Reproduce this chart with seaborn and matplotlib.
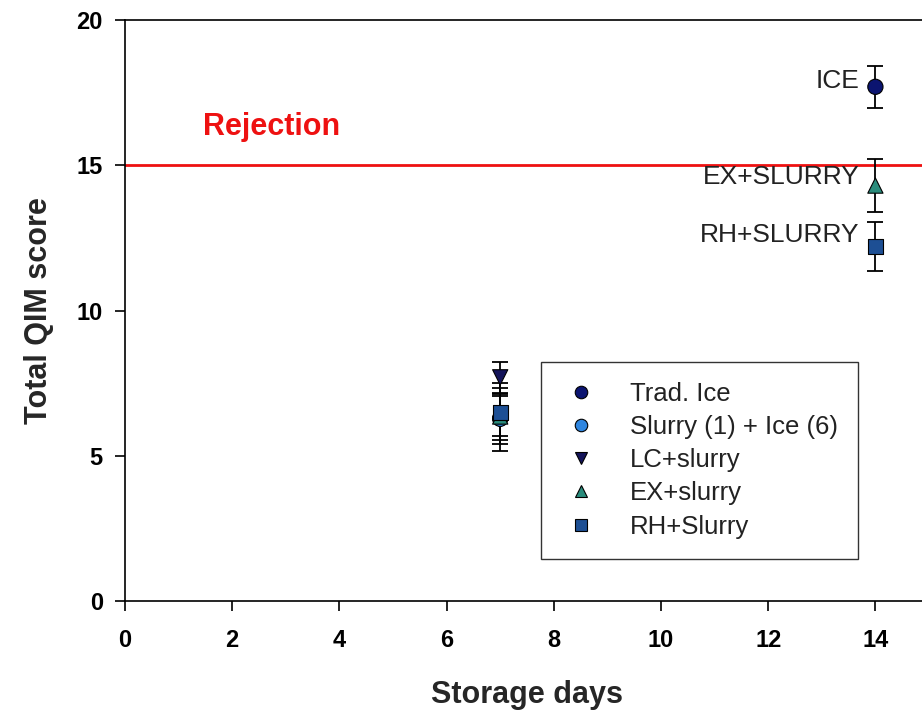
import pandas as pd
import matplotlib.pyplot as plt
import seaborn as sns
from matplotlib.lines import Line2D

# Data
days = [7, 7, 7, 7, 7, 14, 14, 14]
treatments = ['Trad. Ice', 'Slurry (1) + Ice (6)', 'LC+slurry', 'EX+slurry', 'RH+Slurry',
              'Trad. Ice', 'EX+slurry', 'RH+Slurry']
scores = [6.3, 6.27, 7.7, 6.35, 6.5, 17.7, 14.3, 12.2]
errors = [0.75, 0.87, 0.53, 1.17, 0.83, 0.73, 0.9, 0.85]

order = ['Trad. Ice', 'Slurry (1) + Ice (6)', 'LC+slurry', 'EX+slurry', 'RH+Slurry']
colors = ['#0b1470', '#2f86e0', '#14145a', '#2a8c7c', '#1d4f94']
markers = ['o', 'o', 'v', '^', 's']

rejection_level = 15
annotations = ['ICE', 'EX+SLURRY', 'RH+SLURRY']
annot_y = [17.9, 14.6, 12.6]

df = pd.DataFrame({'Day': days, 'Treatment': treatments, 'Score': scores, 'Err': errors})

sns.set_style('ticks')
plt.rcParams['font.family'] = ['Liberation Sans', 'DejaVu Sans']

fig = plt.figure(figsize=(9.22, 7.10), dpi=100)
ax = fig.add_axes([125 / 922, 109 / 710, 804 / 922, 581 / 710])

# Error bars first so markers sit on top
ax.errorbar(df['Day'], df['Score'], yerr=df['Err'], fmt='none', ecolor='black',
            elinewidth=1.3, capsize=5.5, capthick=1.3, zorder=2)

sns.scatterplot(data=df, x='Day', y='Score', hue='Treatment', style='Treatment',
                hue_order=order, style_order=order,
                palette=dict(zip(order, colors)), markers=dict(zip(order, markers)),
                s=120, edgecolor='black', linewidth=0.8, ax=ax, zorder=3, legend=False)

# Rejection line
ax.axhline(rejection_level, color='#ee1111', lw=2, zorder=1)
ax.text(1.45, 16.3, 'Rejection', color='#ee1111', fontsize=22, fontweight='bold', va='center')

for lab, yy in zip(annotations, annot_y):
    ax.text(13.7, yy, lab, fontsize=19, ha='right', va='center', color='#222222')

# Legend
handles = [Line2D([], [], ls='none', marker=m, color=c, markeredgecolor='black',
                  markeredgewidth=0.8, markersize=9) for m, c in zip(markers, colors)]
leg = ax.legend(handles, order, loc='upper left', bbox_to_anchor=(0.517, 0.412),
                fontsize=18.5, frameon=True, fancybox=False, handletextpad=1.1,
                borderpad=0.78, labelspacing=0.36, handlelength=1.6, borderaxespad=0)
leg.get_frame().set_edgecolor('black')
leg.get_frame().set_linewidth(1.0)
for t in leg.get_texts():
    t.set_color('#222222')

ax.set_xlim(0, 15)
ax.set_ylim(0, 20)
ax.set_xticks(range(0, 15, 2))
ax.set_yticks(range(0, 21, 5))
ax.tick_params(axis='both', direction='out', length=7, width=1.2, labelsize=17,
               bottom=True, left=True, colors='black')
ax.tick_params(axis='x', pad=13)
ax.tick_params(axis='y', pad=9)
for t in ax.get_xticklabels() + ax.get_yticklabels():
    t.set_fontweight('bold')
ax.set_xlabel('Storage days', fontsize=22, fontweight='bold', labelpad=20)
ax.set_ylabel('Total QIM score', fontsize=22, fontweight='bold', labelpad=16)
for sp in ax.spines.values():
    sp.set_visible(True)
    sp.set_color('black')
    sp.set_linewidth(1.2)

fig.savefig('out.png', dpi=100)
